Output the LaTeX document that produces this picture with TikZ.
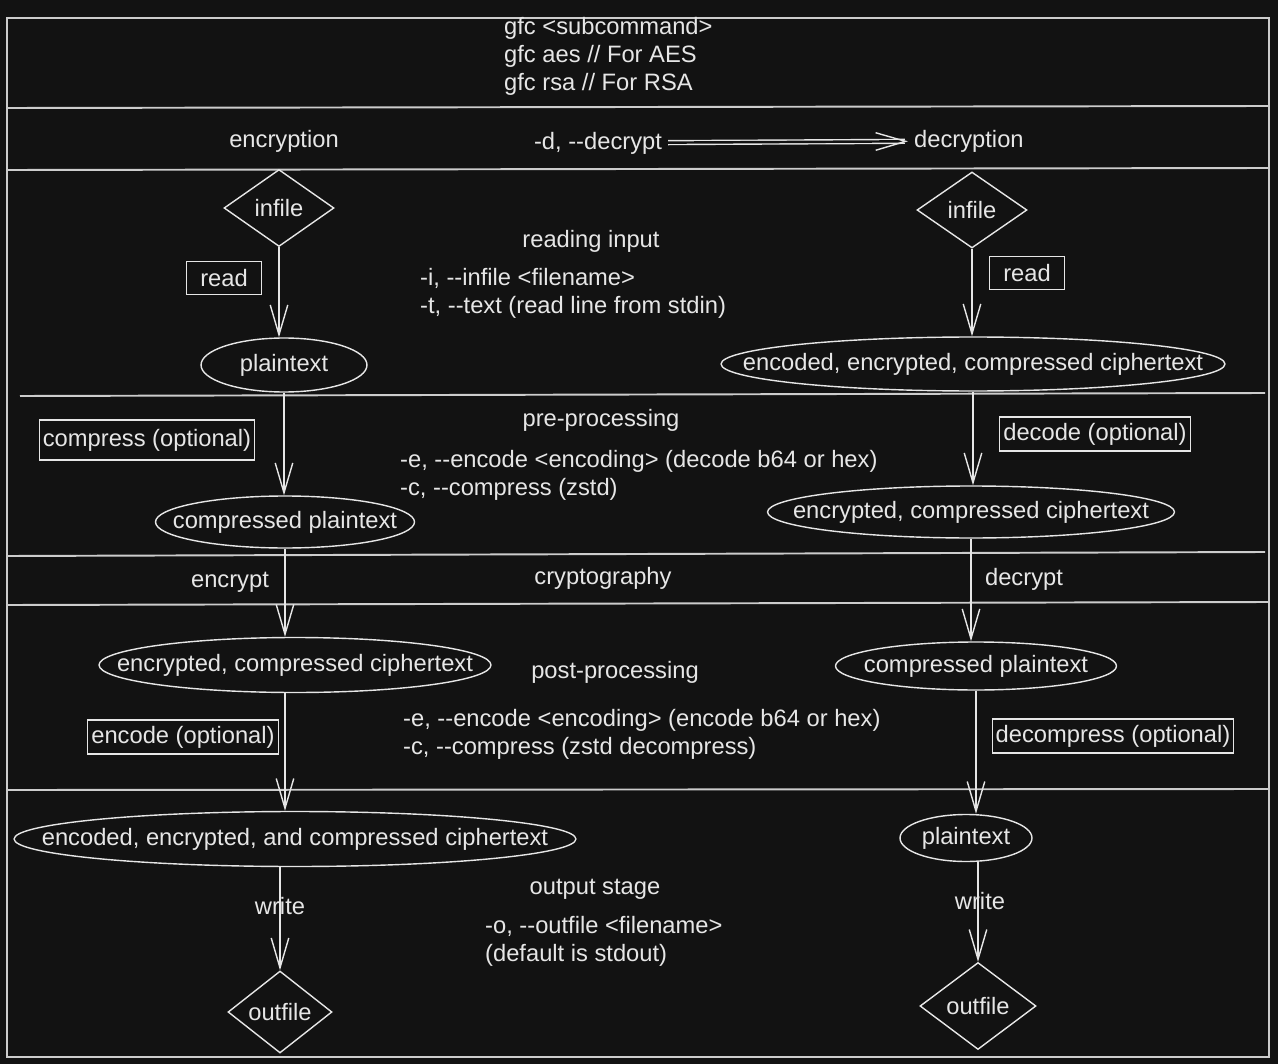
\documentclass[tikz,border=0pt]{standalone}
\usepackage{fontspec}
\setmainfont{Liberation Sans}[Ligatures=TeXOff]
\usepackage{xcolor}
\usetikzlibrary{shapes.geometric,arrows.meta}
\definecolor{bgclr}{HTML}{121212}
\definecolor{inkclr}{HTML}{E6E6E6}
\definecolor{rulclr}{HTML}{CCCCCC}

\begin{document}
\begin{tikzpicture}[x=0.02cm,y=0.02cm,
    state/.style={draw=inkclr,ellipse,line width=0.8pt,inner sep=0pt},
    file/.style={draw=inkclr,diamond,line width=0.8pt,inner sep=0pt},
    tag/.style={draw=inkclr,rectangle,line width=0.7pt,inner xsep=2pt,minimum height=0.66cm},
    opts/.style={anchor=west,align=left},
    arr/.style={draw=inkclr,line width=0.8pt,-{Straight Barb[length=17pt,width=10pt]}},
    rul/.style={draw=rulclr,line width=1.1pt} ]
    \tikzstyle{every node}+=[text=inkclr,font=\fontsize{13.5}{15.9}\selectfont]
    \fill [bgclr] (0,0) rectangle (1278,-1064);
    \draw [rul] (7,-18) rectangle (1269,-1057);
    \draw [rul] (7,-108) -- (1269,-106);
    \draw [rul] (7,-170) -- (1269,-168);
    \draw [rul] (20,-396) -- (1265,-393);
    \draw [rul] (7,-556) -- (1265,-552);
    \draw [rul] (7,-605) -- (1269,-602);
    \draw [rul] (7,-790) -- (1269,-789);
    \node [opts] (usage) at (498,-56) {gfc <subcommand>\\gfc aes // For AES\\gfc rsa // For RSA};
    \node (enc) at (284,-141) {encryption};
    \node (decflag) at (598,-143) {-d, --decrypt};
    \node [anchor=west] (dec) at (908,-141) {decryption};
    \draw [arr,double=bgclr,double distance=1.4pt] (decflag) -- (dec);
    \node (readhdr) at (591,-241) {reading input};
    \node [opts] (readopts) at (414,-293) {-i, --infile <filename>\\-t, --text (read line from stdin)};
    \node (prehdr) at (601,-420) {pre-processing};
    \node [opts] (preopts) at (394,-475) {-e, --encode <encoding> (decode b64 or hex)\\-c, --compress (zstd)};
    \node (cryhdr) at (603,-578) {cryptography};
    \node (posthdr) at (615,-672) {post-processing};
    \node [opts] (postopts) at (397,-734) {-e, --encode <encoding> (encode b64 or hex)\\-c, --compress (zstd decompress)};
    \node (outhdr) at (595,-889) {output stage};
    \node [opts] (outopts) at (479,-941) {-o, --outfile <filename>\\(default is stdout)};
    \node [file,minimum width=2.2cm,minimum height=1.54cm] (infileA) at (279,-208) {\makebox[0pt]{infile}};
    \node [tag,minimum width=1.5cm] (readA) at (224,-278) {read};
    \node [state,minimum width=3.32cm,minimum height=1.08cm] (ptA) at (284,-365) {\makebox[0pt]{plaintext}};
    \draw [arr] (infileA.south) -- (infileA.south |- ptA.north);
    \node [tag,minimum height=0.8cm] (compA) at (147,-440) {compress (optional)};
    \node [state,minimum width=5.18cm,minimum height=1.04cm] (cptA) at (285,-522) {\makebox[0pt]{compressed plaintext}};
    \draw [arr] (ptA.south) -- (ptA.south |- cptA.north);
    \node (encrA) at (230,-582) {encrypt};
    \node [state,minimum width=7.84cm,minimum height=1.1cm] (ectA) at (295,-665) {\makebox[0pt]{encrypted, compressed ciphertext}};
    \draw [arr] (cptA.south) -- (cptA.south |- ectA.north);
    \node [tag] (encoA) at (183,-737) {encode (optional)};
    \node [state,minimum width=11.24cm,minimum height=1.1cm] (eectA) at (295,-839) {\makebox[0pt]{encoded, encrypted, and compressed ciphertext}};
    \draw [arr] (cptA.south |- ectA.south) -- (cptA.south |- eectA.north);
    \node (writeA) at (280,-906) {write};
    \node [file,minimum width=2.08cm,minimum height=1.64cm] (outA) at (280,-1012) {\makebox[0pt]{outfile}};
    \draw [arr] (outA.north |- eectA.south) -- (outA.north);
    \node [file,minimum width=2.2cm,minimum height=1.52cm] (infileB) at (972,-210) {\makebox[0pt]{infile}};
    \node [tag,minimum width=1.5cm] (readB) at (1027,-273) {read};
    \node [state,minimum width=10.08cm,minimum height=1.08cm] (ectB) at (973,-364) {\makebox[0pt]{encoded, encrypted, compressed ciphertext}};
    \draw [arr] (infileB.south) -- (infileB.south |- ectB.north);
    \node [tag] (decoB) at (1095,-434) {decode (optional)};
    \node [state,minimum width=8.14cm,minimum height=1.04cm] (ecB) at (971,-512) {\makebox[0pt]{encrypted, compressed ciphertext}};
    \draw [arr] (ectB.south) -- (ectB.south |- ecB.north);
    \node (decrB) at (1024,-579) {decrypt};
    \node [state,minimum width=5.62cm,minimum height=0.96cm] (cptB) at (976,-666) {\makebox[0pt]{compressed plaintext}};
    \draw [arr] (ecB.south) -- (ecB.south |- cptB.north);
    \node [tag] (decmB) at (1113,-736) {decompress (optional)};
    \node [state,minimum width=2.64cm,minimum height=0.94cm] (ptB) at (966,-838) {\makebox[0pt]{plaintext}};
    \draw [arr] (cptB.south) -- (cptB.south |- ptB.north);
    \node (writeB) at (980,-901) {write};
    \node [file,minimum width=2.32cm,minimum height=1.74cm] (outB) at (978,-1006) {\makebox[0pt]{outfile}};
    \draw [arr] (outB.north |- ptB.south) -- (outB.north);
\end{tikzpicture}
\end{document}
